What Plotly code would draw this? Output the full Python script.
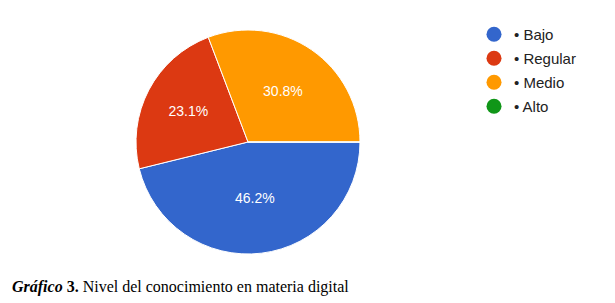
import plotly.graph_objects as go

categories = ["Bajo", "Regular", "Medio", "Alto"]
values = [46.2, 23.1, 30.8, 0.0]
colors = ["#3366cc", "#dc3912", "#ff9900", "#109618"]
caption_label = "Gráfico"
caption_num = "3."
caption_text = "Nivel del conocimiento en materia digital"

W, H = 615, 303
cx, cy, r = 240, 134, 112

fig = go.Figure()
fig.add_trace(go.Pie(
    labels=categories, values=values, sort=False, direction="clockwise",
    rotation=90, marker=dict(colors=colors, line=dict(color="white", width=1)),
    texttemplate="%{percent:.1%}", textposition="inside", insidetextorientation="horizontal",
    textfont=dict(color="white", size=14, family="Liberation Sans"),
    showlegend=False, hoverinfo="label+percent",
    domain=dict(x=[(cx - r) / W, (cx + r) / W], y=[(H - cy - r) / H, (H - cy + r) / H]),
))
for name, col in zip(categories, colors):
    fig.add_trace(go.Scatter(
        x=[None], y=[None], mode="markers", name="• " + name, legendgroup=name,
        marker=dict(color=col, size=15, symbol="circle"), showlegend=True,
    ))

fig.update_layout(
    width=W, height=H, margin=dict(l=0, r=0, t=0, b=0),
    paper_bgcolor="white", plot_bgcolor="white",
    xaxis=dict(visible=False), yaxis=dict(visible=False),
    legend=dict(x=466 / W, y=1 - 10 / H, xanchor="left", yanchor="top",
                font=dict(family="Liberation Sans", size=15, color="#222222"),
                tracegroupgap=1.5, itemwidth=30, bgcolor="rgba(0,0,0,0)"),
    annotations=[dict(
        x=2 / W, y=1 - 279 / H, xref="paper", yref="paper", xanchor="left", yanchor="middle",
        showarrow=False,
        text=f"<b><i>{caption_label}</i> {caption_num}</b> {caption_text}",
        font=dict(family="Liberation Serif", size=16, color="black"),
    )],
)
fig.write_html("out.html")
